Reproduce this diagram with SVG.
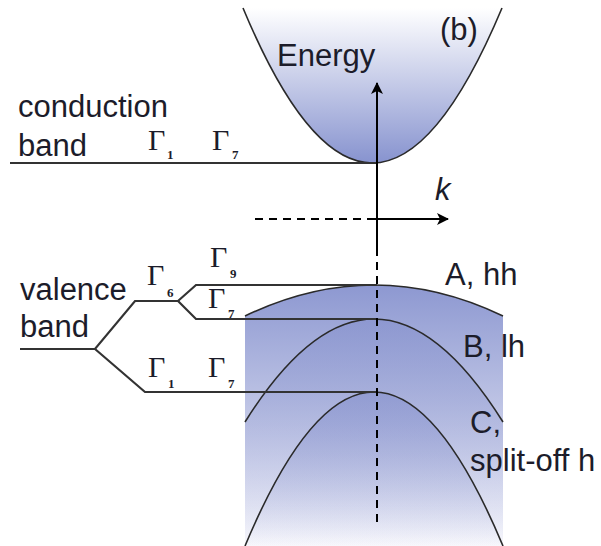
<svg xmlns="http://www.w3.org/2000/svg" width="601" height="546" viewBox="0 0 601 546">
<defs>
<linearGradient id="gc" x1="0" y1="8" x2="0" y2="163" gradientUnits="userSpaceOnUse">
<stop offset="0" stop-color="#ffffff"/>
<stop offset="1" stop-color="#8793cf"/>
</linearGradient>
<linearGradient id="gv" x1="0" y1="285" x2="0" y2="546" gradientUnits="userSpaceOnUse">
<stop offset="0" stop-color="#8d98d1"/>
<stop offset="1" stop-color="#f7f7fc"/>
</linearGradient>
<linearGradient id="gb" x1="0" y1="319" x2="0" y2="546" gradientUnits="userSpaceOnUse">
<stop offset="0" stop-color="#7d89c9" stop-opacity="0.45"/>
<stop offset="1" stop-color="#7d89c9" stop-opacity="0"/>
</linearGradient>
<linearGradient id="gcc" x1="0" y1="392" x2="0" y2="546" gradientUnits="userSpaceOnUse">
<stop offset="0" stop-color="#7d89c9" stop-opacity="0.5"/>
<stop offset="1" stop-color="#7d89c9" stop-opacity="0"/>
</linearGradient>
<marker id="ah" viewBox="0 0 12 12" refX="11" refY="6" markerWidth="12" markerHeight="12" markerUnits="userSpaceOnUse" orient="auto">
<path d="M0,0 L12,6 L0,12 L3,6 Z" fill="#000"/>
</marker>
<style>
.t{font-family:"Liberation Sans",Arial,sans-serif;font-size:31px;fill:#1c1c2a}
.g{font-family:"Liberation Serif","Times New Roman",serif;font-size:30px;fill:#1c1c2a}
.s{font-family:"Liberation Serif","Times New Roman",serif;font-size:13px;font-weight:bold;fill:#1c1c2a}
.c{fill:none;stroke:#2a2a2a;stroke-width:1.6}
.l{fill:none;stroke:#333;stroke-width:2.2}
.ax{fill:none;stroke:#000;stroke-width:2}
</style>
</defs>

<g id="conduction-parabola">
<path d="M243,8 Q372,318 502,8 Z" fill="url(#gc)"/>
<path d="M243,8 Q372,318 502,8" class="c"/>
</g>

<g id="valence-bands">
<path d="M245,316 Q374,254 503,316 L503,546 L245,546 Z" fill="url(#gv)"/>
<path d="M245,422 Q374,216 503,422 L503,546 L245,546 Z" fill="url(#gb)"/>
<path d="M245,546 Q374,238 503,546 Z" fill="url(#gcc)"/>
<path d="M245,316 Q374,254 503,316" class="c"/>
<path d="M245,422 Q374,216 503,422" class="c"/>
<path d="M245,546 Q374,238 503,546" class="c"/>
</g>

<g id="connectors">
<path d="M10,163 H377" class="l"/>
<path d="M20,349 H95 L135,301 H178 L196,285 H377" class="l"/>
<path d="M178,301 L196,319 H377" class="l"/>
<path d="M95,349 L145,392 H377" class="l"/>
<path d="M377,248 V83" class="ax" marker-end="url(#ah)"/>
<path d="M377,248 V523" class="ax" stroke-dasharray="8,6"/>
<path d="M255,219 H372" class="ax" stroke-dasharray="8,6"/>
<path d="M372,219 H448" class="ax" marker-end="url(#ah)"/>
</g>

<g id="labels">
<text class="t" x="18" y="117">conduction</text>
<text class="t" x="18" y="156">band</text>
<text class="t" x="20" y="300">valence</text>
<text class="t" x="20" y="337">band</text>
<text class="t" x="277" y="66">Energy</text>
<text class="t" x="440" y="40">(b)</text>
<text class="t" x="435" y="200" font-style="italic">k</text>
<text class="t" x="445" y="285">A, hh</text>
<text class="t" x="463" y="357">B, lh</text>
<text class="t" x="470" y="433">C,</text>
<text class="t" x="470" y="471">split-off h</text>
<text class="g" x="148" y="150">Γ</text><text class="s" x="167" y="159">1</text>
<text class="g" x="212" y="150">Γ</text><text class="s" x="232" y="159">7</text>
<text class="g" x="147" y="285">Γ</text><text class="s" x="167" y="297">6</text>
<text class="g" x="210" y="267">Γ</text><text class="s" x="230" y="278">9</text>
<text class="g" x="208" y="308">Γ</text><text class="s" x="228" y="318">7</text>
<text class="g" x="148" y="377">Γ</text><text class="s" x="168" y="388">1</text>
<text class="g" x="208" y="377">Γ</text><text class="s" x="228" y="388">7</text>
</g>
</svg>
